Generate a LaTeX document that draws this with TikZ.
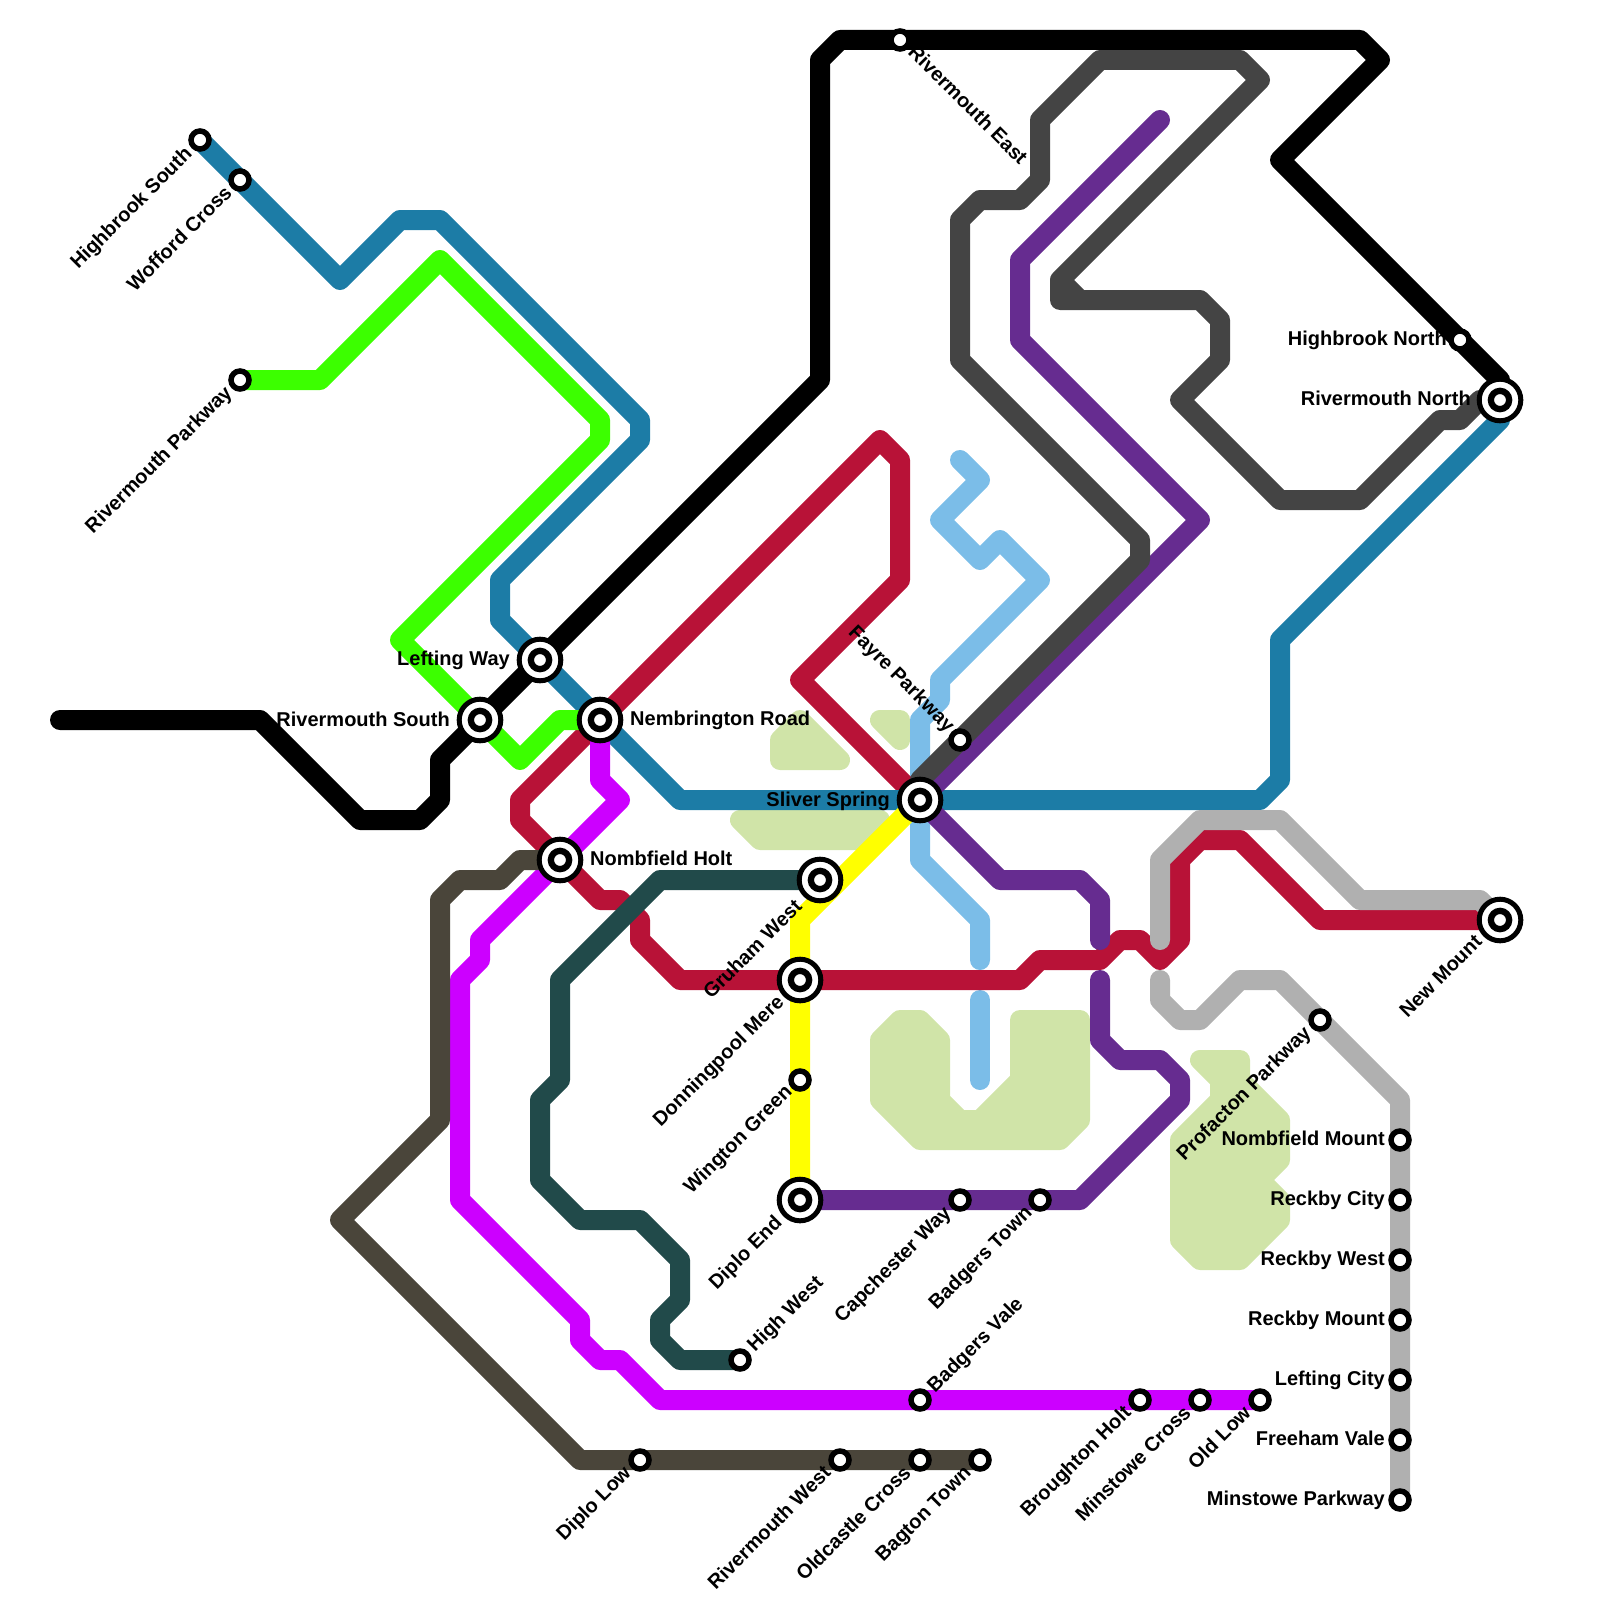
\documentclass[tikz,border=0pt]{standalone}
\usepackage{fontspec}
\setmainfont{Liberation Sans}
\pgfdeclarelayer{parks}
\pgfdeclarelayer{lines}
\pgfsetlayers{parks,lines,main}
\definecolor{cblue}{HTML}{1C7CA6}
\definecolor{ccrim}{HTML}{B81237}
\definecolor{cpurp}{HTML}{662C90}
\definecolor{cdgrey}{HTML}{444444}
\definecolor{clgrey}{HTML}{B0B0B0}
\definecolor{colive}{HTML}{4A453A}
\definecolor{cteal}{HTML}{214A4A}
\definecolor{csky}{HTML}{7BBDE8}
\definecolor{cgreen}{HTML}{3CFF00}
\definecolor{cmag}{HTML}{CC00FF}
\definecolor{cyell}{HTML}{FFFF00}
\definecolor{cpark}{HTML}{D0E4A8}
\tikzset{
 metro/.style={line width=20pt,line cap=round,line join=round},
 park/.style={draw=cpark,fill=cpark,line width=20pt,line join=round},
 halt/.style={circle,draw=black,fill=white,line width=5.5pt,minimum size=18pt,inner sep=0pt},
 hub/.style={circle,draw=black,fill=white,line width=5pt,minimum size=41.6pt,inner sep=0pt,
   path picture={\draw[black,line width=6.3pt] (path picture bounding box.center) circle (9.15pt);}},
 lbl/.style={inner sep=0pt,text height=14.4pt,text depth=0pt,font=\fontsize{20}{22}\selectfont\bfseries,text=black},
 lw/.style={lbl,anchor=east},
 le/.style={lbl,anchor=west},
 ldl/.style={lbl,anchor=east,rotate=45},
 lur/.style={lbl,anchor=west,rotate=45},
 ldr/.style={lbl,anchor=west,rotate=-45},
 lul/.style={lbl,anchor=east,rotate=-45},
}
\begin{document}
\begin{tikzpicture}[x=1pt,y=-1pt]
\useasboundingbox (0,0) rectangle (1600,1600);
% stations
\node[halt] (hs) at (200,140) {};
\node[halt] (wc) at (240,180) {};
\node[halt] (rp) at (240,380) {};
\node[halt] (re) at (900,40) {};
\node[halt] (hn) at (1460,340) {};
\node[halt] (fp) at (960,740) {};
\node[halt] (pp) at (1320,1020) {};
\node[halt] (nm) at (1400,1140) {};
\node[halt] (rc) at (1400,1200) {};
\node[halt] (rw) at (1400,1260) {};
\node[halt] (rm) at (1400,1320) {};
\node[halt] (lc) at (1400,1380) {};
\node[halt] (fv) at (1400,1440) {};
\node[halt] (mp) at (1400,1500) {};
\node[halt] (ol) at (1260,1400) {};
\node[halt] (mc) at (1200,1400) {};
\node[halt] (bh) at (1140,1400) {};
\node[halt] (bv) at (920,1400) {};
\node[halt] (bt) at (980,1460) {};
\node[halt] (oc) at (920,1460) {};
\node[halt] (rwe) at (840,1460) {};
\node[halt] (dl) at (640,1460) {};
\node[halt] (hw) at (740,1360) {};
\node[halt] (wg) at (800,1080) {};
\node[halt] (cw) at (960,1200) {};
\node[halt] (bdt) at (1040,1200) {};
\node[hub] (lw) at (540,660) {};
\node[hub] (rs) at (480,720) {};
\node[hub] (nr) at (600,720) {};
\node[hub] (nh) at (560,860) {};
\node[hub] (ss) at (920,800) {};
\node[hub] (gw) at (820,880) {};
\node[hub] (dm) at (800,980) {};
\node[hub] (de) at (800,1200) {};
\node[hub] (rn) at (1500,400) {};
\node[hub] (nwm) at (1500,920) {};
% parks
\begin{pgfonlayer}{parks}
\draw[park] (880,1040)--(900,1020)--(920,1020)--(940,1040)--(940,1100)--(960,1120)--(980,1120)--(1020,1080)--(1020,1020)--(1080,1020)--(1080,1120)--(1060,1140)--(920,1140)--(880,1100)--cycle;
\draw[park] (1200,1060)--(1240,1060)--(1240,1080)--(1280,1120)--(1280,1160)--(1260,1180)--(1280,1200)--(1280,1220)--(1240,1260)--(1200,1260)--(1180,1240)--(1180,1140)--(1220,1100)--(1220,1080)--cycle;
\draw[park] (780,740)--(800,720)--(840,760)--(780,760)--cycle;
\draw[park] (880,720)--(900,720)--(900,740)--cycle;
\draw[park] (740,820)--(880,820)--(860,840)--(760,840)--cycle;
\end{pgfonlayer}
% lines
\begin{pgfonlayer}{lines}
\draw[metro,csky] (960,460)--(980,480)--(940,520)--(980,560)--(1000,540)--(1040,580)--(940,680)--(940,700)--(920,720)--(ss.center)--(920,860)--(980,920)--(980,960);
\draw[metro,csky] (980,1000)--(980,1080);
\draw[metro,ccrim] (nwm.center)--(1320,920)--(1240,840)--(1200,840)--(1180,860)--(1180,940)--(1160,960)--(1140,940)--(1120,940)--(1100,960)--(1040,960)--(1020,980)--(dm.center)--(680,980)--(640,940)--(640,920)--(620,900)--(600,900)--(nh.center)--(520,820)--(520,800)--(nr.center)--(880,440)--(900,460)--(900,580)--(800,680)--(ss.center);
\draw[metro,cblue] (hs.center)--(340,280)--(400,220)--(440,220)--(640,420)--(640,440)--(500,580)--(500,620)--(lw.center)--(nr.center)--(680,800)--(ss.center)--(1260,800)--(1280,780)--(1280,640)--(1500,420)--(rn.center);
\draw[metro,cpurp] (1160,120)--(1020,260)--(1020,340)--(1200,520)--(940,780)--(ss.center)--(1000,880)--(1080,880)--(1100,900)--(1100,940);
\draw[metro,cpurp] (1100,980)--(1100,1040)--(1120,1060)--(1160,1060)--(1180,1080)--(1180,1100)--(1080,1200)--(de.center);
\draw[metro,cdgrey] (rn.center)--(1480,400)--(1460,420)--(1440,420)--(1360,500)--(1280,500)--(1180,400)--(1220,360)--(1220,320)--(1200,300)--(1060,300)--(1060,280)--(1080,300)--(1060,280)--(1260,80)--(1240,60)--(1100,60)--(1040,120)--(1040,180)--(1020,200)--(980,200)--(960,220)--(960,360)--(1140,540)--(1140,560)--(920,780)--(ss.center);
\draw[metro,clgrey] (1160,940)--(1160,860)--(1200,820)--(1280,820)--(1360,900)--(1480,900)--(nwm.center);
\draw[metro,clgrey] (1160,980)--(1160,1000)--(1180,1020)--(1200,1020)--(1240,980)--(1280,980)--(1400,1100)--(mp.center);
\draw[metro,cmag] (nr.center)--(600,780)--(620,800)--(480,940)--(480,960)--(460,980)--(460,1200)--(580,1320)--(580,1340)--(600,1360)--(620,1360)--(660,1400)--(ol.center);
\draw[metro,cgreen] (rp.center)--(320,380)--(440,260)--(600,420)--(600,440)--(400,640)--(520,760)--(560,720)--(nr.center);
\draw[metro,cteal] (gw.center)--(660,880)--(560,980)--(560,1080)--(540,1100)--(540,1180)--(580,1220)--(640,1220)--(680,1260)--(680,1300)--(660,1320)--(660,1340)--(680,1360)--(hw.center);
\draw[metro,colive] (bt.center)--(580,1460)--(340,1220)--(440,1120)--(440,900)--(460,880)--(500,880)--(520,860)--(nh.center);
\draw[metro,black] (60,720)--(260,720)--(360,820)--(420,820)--(440,800)--(440,760)--(lw.center)--(820,380)--(820,60)--(840,40)--(1360,40)--(1380,60)--(1280,160)--(1500,380)--(rn.center);
\draw[metro,cyell] (ss.center)--(800,920)--(de.center);
\end{pgfonlayer}
% labels
\node[ldl] (thn) at (188,150) {Highbrook South};
\node[ldl] (twc) at (228,189) {Wofford Cross};
\node[ldl] (trp) at (228,389) {Rivermouth Parkway};
\node[ldr] (tre) at (912,48) {Rivermouth East};
\node[lw] (thb) at (1447,338) {Highbrook North};
\node[lw] (trn) at (1471,398) {Rivermouth North};
\node[lul] (tfp) at (952,728) {Fayre Parkway};
\node[ldl] (tpp) at (1307,1029) {Profacton Parkway};
\node[lw] (tnm) at (1385,1138) {Nombfield Mount};
\node[lw] (trc) at (1385,1198) {Reckby City};
\node[lw] (trw) at (1385,1258) {Reckby West};
\node[lw] (trm) at (1385,1318) {Reckby Mount};
\node[lw] (tlc) at (1385,1378) {Lefting City};
\node[lw] (tfv) at (1385,1438) {Freeham Vale};
\node[lw] (tmp) at (1385,1498) {Minstowe Parkway};
\node[ldl] (tol) at (1247,1409) {Old Low};
\node[ldl] (tmc) at (1187,1409) {Minstowe Cross};
\node[ldl] (tbh) at (1127,1409) {Broughton Holt};
\node[lur] (tbv) at (930,1389) {Badgers Vale};
\node[ldl] (tbt) at (967,1469) {Bagton Town};
\node[ldl] (toc) at (907,1469) {Oldcastle Cross};
\node[ldl] (trwe) at (827,1469) {Rivermouth West};
\node[ldl] (tdl) at (627,1469) {Diplo Low};
\node[lur] (thw) at (750,1348) {High West};
\node[ldl] (twg) at (788,1088) {Wington Green};
\node[ldl] (tcw) at (947,1209) {Capchester Way};
\node[ldl] (tbd) at (1028,1209) {Badgers Town};
\node[lw] (tlw) at (510,658) {Lefting Way};
\node[lw] (trs) at (450,719) {Rivermouth South};
\node[le] (tnr) at (630,718) {Nembrington Road};
\node[le] (tnh) at (590,858) {Nombfield Holt};
\node[lw] (tss) at (890,799) {Sliver Spring};
\node[ldl] (tgw) at (798,903) {Gruham West};
\node[ldl] (tdm) at (780,998) {Donningpool Mere};
\node[ldl] (tde) at (778,1219) {Diplo End};
\node[ldl] (tnwm) at (1478,938) {New Mount};
\end{tikzpicture}
\end{document}
